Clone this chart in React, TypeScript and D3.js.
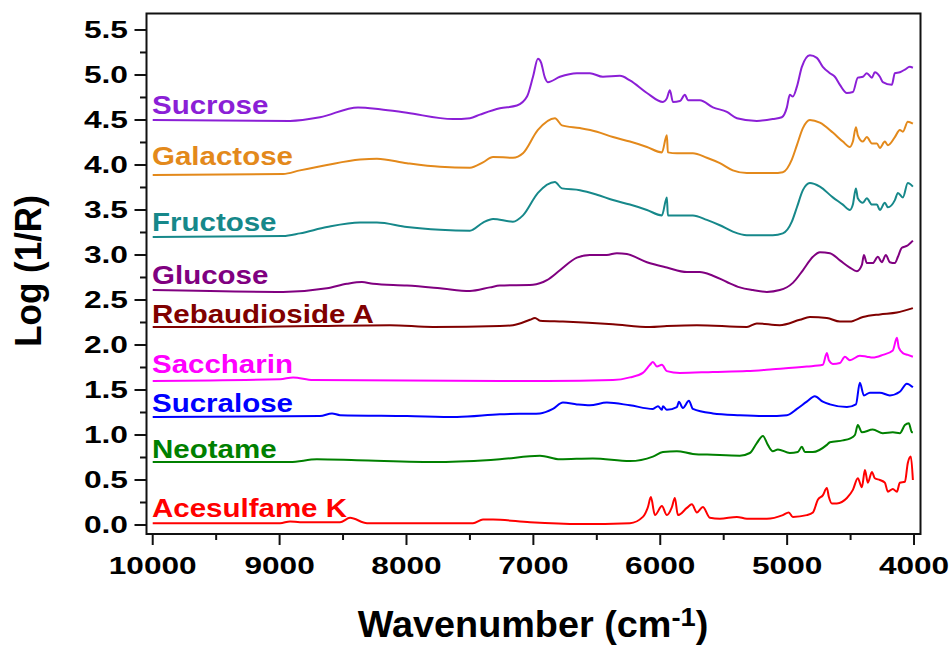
import React from "react";
import * as d3 from "d3";

// ---- DATA (wavenumber cm-1, Log(1/R)) ----
const sucrose: [number, number][] = [
  [10000, 4.5], [8918, 4.49], [8682, 4.53], [8382, 4.64], [8209, 4.62], [7996, 4.58], [7634, 4.51], [7500, 4.52],
  [7421, 4.56], [7264, 4.63], [7130, 4.66], [7050, 4.76], [7003, 4.98], [6964, 5.18], [6940, 5.14], [6909, 4.97],
  [6886, 4.92], [6791, 4.98], [6657, 5.02], [6555, 5.02], [6452, 4.98], [6318, 4.99], [6239, 4.94], [6105, 4.8],
  [5979, 4.7], [5948, 4.74], [5924, 4.83], [5900, 4.7], [5845, 4.71], [5806, 4.78], [5782, 4.72], [5688, 4.72],
  [5585, 4.64], [5475, 4.59], [5396, 4.52], [5239, 4.49], [5113, 4.51], [5042, 4.53], [5002, 4.64], [4979, 4.78],
  [4955, 4.76], [4923, 4.87], [4884, 5.09], [4821, 5.22], [4766, 5.19], [4719, 5.09], [4663, 5.02], [4624, 4.98],
  [4584, 4.89], [4529, 4.8], [4482, 4.81], [4443, 4.97], [4403, 4.98], [4372, 5.02], [4332, 4.97], [4309, 5.03],
  [4269, 4.98], [4246, 4.92], [4175, 4.89], [4151, 5.02], [4112, 5.03], [4072, 5.06], [4033, 5.09], [4009, 5.08],
];

const galactose: [number, number][] = [
  [10000, 3.89], [8973, 3.9], [8840, 3.94], [8627, 4.0], [8366, 4.06], [8233, 4.07], [7996, 4.02], [7736, 3.98],
  [7500, 3.97], [7397, 4.03], [7318, 4.09], [7161, 4.08], [7082, 4.13], [6964, 4.39], [6830, 4.52], [6775, 4.44],
  [6633, 4.41], [6499, 4.37], [6373, 4.31], [6239, 4.26], [6105, 4.2], [5987, 4.14], [5948, 4.33], [5940, 4.14],
  [5869, 4.13], [5743, 4.13], [5633, 4.08], [5530, 4.02], [5428, 3.94], [5318, 3.91], [5113, 3.91], [5034, 3.92],
  [4963, 4.06], [4923, 4.22], [4876, 4.41], [4821, 4.5], [4742, 4.47], [4640, 4.36], [4561, 4.26], [4506, 4.2],
  [4482, 4.26], [4458, 4.42], [4443, 4.33], [4403, 4.26], [4372, 4.31], [4332, 4.24], [4293, 4.24], [4269, 4.19],
  [4230, 4.26], [4206, 4.22], [4151, 4.31], [4112, 4.39], [4088, 4.37], [4049, 4.48], [4009, 4.46],
];

const fructose: [number, number][] = [
  [10000, 3.2], [8973, 3.21], [8840, 3.24], [8627, 3.31], [8366, 3.36], [8233, 3.36], [7996, 3.31], [7736, 3.28],
  [7500, 3.27], [7397, 3.36], [7318, 3.4], [7161, 3.37], [7082, 3.44], [6964, 3.69], [6830, 3.81], [6775, 3.74],
  [6633, 3.72], [6499, 3.67], [6373, 3.61], [6239, 3.56], [6105, 3.5], [5987, 3.44], [5948, 3.64], [5940, 3.44],
  [5869, 3.44], [5743, 3.44], [5633, 3.39], [5530, 3.33], [5428, 3.26], [5318, 3.22], [5113, 3.22], [5034, 3.24],
  [4963, 3.37], [4923, 3.53], [4876, 3.72], [4821, 3.8], [4742, 3.76], [4640, 3.64], [4561, 3.56], [4506, 3.5],
  [4482, 3.56], [4458, 3.74], [4443, 3.63], [4403, 3.58], [4372, 3.63], [4332, 3.56], [4293, 3.56], [4269, 3.5],
  [4230, 3.58], [4206, 3.53], [4151, 3.61], [4127, 3.69], [4088, 3.64], [4049, 3.8], [4009, 3.76],
];

const glucose: [number, number][] = [
  [10000, 2.61], [8973, 2.59], [8627, 2.63], [8469, 2.68], [8351, 2.7], [8264, 2.68], [7996, 2.66], [7736, 2.63],
  [7500, 2.6], [7342, 2.64], [7264, 2.66], [7003, 2.67], [6893, 2.72], [6791, 2.83], [6657, 2.97], [6555, 3.0],
  [6421, 3.0], [6342, 3.02], [6263, 3.01], [6105, 2.92], [5948, 2.86], [5790, 2.81], [5688, 2.81], [5585, 2.77],
  [5475, 2.7], [5373, 2.64], [5270, 2.61], [5160, 2.59], [5058, 2.61], [4955, 2.69], [4876, 2.83], [4797, 2.98],
  [4742, 3.03], [4663, 3.02], [4584, 2.94], [4506, 2.86], [4450, 2.82], [4411, 2.89], [4395, 3.0], [4372, 2.91],
  [4325, 2.91], [4285, 2.98], [4254, 2.92], [4222, 3.0], [4191, 2.92], [4151, 2.91], [4127, 2.98], [4096, 3.08],
  [4057, 3.1], [4009, 3.16],
];

const rebaudiosideA: [number, number][] = [
  [10000, 2.2], [9312, 2.2], [8130, 2.22], [7791, 2.2], [7264, 2.21], [7161, 2.22], [7027, 2.28], [6987, 2.3],
  [6948, 2.27], [6767, 2.26], [6373, 2.23], [6081, 2.2], [5948, 2.21], [5711, 2.22], [5317, 2.2], [5239, 2.24],
  [5058, 2.22], [4900, 2.28], [4821, 2.31], [4687, 2.3], [4584, 2.26], [4506, 2.26], [4403, 2.31], [4269, 2.34],
  [4135, 2.36], [4009, 2.41],
];

const saccharin: [number, number][] = [
  [10000, 1.6], [8996, 1.62], [8894, 1.64], [8737, 1.61], [7264, 1.6], [6893, 1.6], [6373, 1.61], [6239, 1.64],
  [6137, 1.69], [6081, 1.78], [6058, 1.81], [6026, 1.76], [5987, 1.78], [5948, 1.71], [5845, 1.69], [5585, 1.7],
  [5317, 1.71], [5113, 1.73], [4845, 1.76], [4719, 1.78], [4687, 1.91], [4671, 1.83], [4640, 1.79], [4584, 1.8],
  [4545, 1.87], [4506, 1.83], [4427, 1.88], [4372, 1.87], [4325, 1.86], [4246, 1.89], [4167, 1.94], [4135, 2.08],
  [4120, 1.97], [4088, 1.91], [4049, 1.89], [4009, 1.87],
];

const sucralose: [number, number][] = [
  [10000, 1.2], [8682, 1.21], [8587, 1.24], [8524, 1.22], [7996, 1.21], [7602, 1.2], [7264, 1.23], [6948, 1.24],
  [6846, 1.29], [6767, 1.36], [6657, 1.34], [6555, 1.33], [6421, 1.36], [6239, 1.33], [6058, 1.29], [6018, 1.32],
  [5987, 1.28], [5979, 1.32], [5948, 1.28], [5869, 1.31], [5853, 1.37], [5822, 1.3], [5774, 1.38], [5743, 1.29],
  [5585, 1.24], [5373, 1.22], [5160, 1.21], [5002, 1.22], [4923, 1.29], [4845, 1.37], [4782, 1.43], [4719, 1.37],
  [4663, 1.34], [4529, 1.31], [4458, 1.34], [4427, 1.58], [4395, 1.44], [4348, 1.47], [4269, 1.47], [4191, 1.44],
  [4112, 1.48], [4057, 1.57], [4009, 1.53],
];

const neotame: [number, number][] = [
  [10000, 0.7], [8918, 0.7], [8706, 0.73], [8390, 0.72], [7736, 0.7], [7264, 0.73], [6948, 0.77], [6791, 0.73],
  [6531, 0.74], [6239, 0.71], [6058, 0.76], [5979, 0.81], [5869, 0.82], [5743, 0.79], [5585, 0.78], [5373, 0.77],
  [5294, 0.8], [5239, 0.91], [5191, 0.99], [5152, 0.89], [5113, 0.82], [5073, 0.84], [4979, 0.8], [4916, 0.81],
  [4884, 0.87], [4860, 0.81], [4797, 0.81], [4687, 0.89], [4663, 0.92], [4561, 0.94], [4506, 0.96], [4466, 1.0],
  [4443, 1.11], [4411, 1.03], [4325, 1.06], [4246, 1.02], [4167, 1.03], [4112, 1.02], [4072, 1.11], [4041, 1.13],
  [4017, 1.03], [4009, 1.03],
];

const acesulfameK: [number, number][] = [
  [10000, 0.02], [8996, 0.02], [8918, 0.04], [8840, 0.03], [8524, 0.03], [8445, 0.08], [8311, 0.02], [7476, 0.02],
  [7397, 0.06], [7318, 0.06], [7027, 0.03], [6633, 0.01], [6239, 0.02], [6137, 0.09], [6097, 0.2], [6074, 0.31],
  [6042, 0.11], [5987, 0.21], [5948, 0.11], [5908, 0.2], [5885, 0.3], [5861, 0.11], [5790, 0.19], [5751, 0.23],
  [5711, 0.14], [5664, 0.2], [5609, 0.08], [5530, 0.07], [5396, 0.09], [5317, 0.07], [5160, 0.07], [5034, 0.11],
  [4987, 0.14], [4955, 0.09], [4845, 0.11], [4797, 0.14], [4758, 0.28], [4719, 0.33], [4687, 0.41], [4671, 0.31],
  [4648, 0.24], [4608, 0.24], [4529, 0.3], [4482, 0.39], [4443, 0.52], [4411, 0.42], [4387, 0.61], [4364, 0.47],
  [4332, 0.59], [4309, 0.52], [4269, 0.5], [4230, 0.47], [4206, 0.37], [4167, 0.4], [4135, 0.37], [4112, 0.47],
  [4072, 0.48], [4049, 0.69], [4025, 0.76], [4009, 0.5],
];

const seriesNames = [
  "Sucrose", "Galactose", "Fructose", "Glucose", "Rebaudioside A",
  "Saccharin", "Sucralose", "Neotame", "Acesulfame K",
];
const seriesData = [sucrose, galactose, fructose, glucose, rebaudiosideA, saccharin, sucralose, neotame, acesulfameK];

const xMajorTicks = [10000, 9000, 8000, 7000, 6000, 5000, 4000];
const xMinorTicks = [9500, 8500, 7500, 6500, 5500, 4500];
const yMajorTicks = [0, 0.5, 1, 1.5, 2, 2.5, 3, 3.5, 4, 4.5, 5, 5.5];
const yMinorTicks = [0.25, 0.75, 1.25, 1.75, 2.25, 2.75, 3.25, 3.75, 4.25, 4.75, 5.25];

// ---- STYLE ----
const colors = ["#8B1FD6", "#E3891B", "#16888A", "#800080", "#800000", "#FF00FF", "#0000FF", "#008000", "#FF0000"];
const labelDy = [-6, -10, -6, -6, -4, -8, -5, -4, -6];

const W = 949;
const H = 646;
const left = 146.5, right = 920.5, top = 13.5, bottom = 534;
const FONT = "'Liberation Sans', Arial, Helvetica, sans-serif";

function SText(props: {
  x: number; y: number; sx?: number; size: number; anchor?: string; fill?: string; children: React.ReactNode;
}) {
  const { x, y, sx = 1, size, anchor = "start", fill = "#000", children } = props;
  return (
    <text
      transform={`translate(${x},${y}) scale(${sx},1)`}
      textAnchor={anchor as any}
      fontSize={size}
      fontWeight="bold"
      fontFamily={FONT}
      fill={fill}
    >
      {children}
    </text>
  );
}

export default function App() {
  const x = d3.scaleLinear().domain([10049, 3949]).range([left, right]);
  const y = d3.scaleLinear().domain([-0.1, 5.683]).range([bottom, top]);
  const line = d3
    .line<[number, number]>()
    .x((d) => x(d[0]))
    .y((d) => y(d[1]))
    .curve(d3.curveMonotoneX);

  return (
    <svg
      width={W}
      height={H}
      style={{ position: "absolute", left: 0, top: 0, background: "#fff" }}
    >
      <rect x={0} y={0} width={W} height={H} fill="#fff" />
      {/* series */}
      {seriesData.map((s, i) => (
        <path key={seriesNames[i]} d={line(s) || ""} fill="none" stroke={colors[i]} strokeWidth={2} strokeLinejoin="round" />
      ))}
      {/* labels */}
      {seriesData.map((s, i) => (
        <SText key={"l" + i} x={152} y={y(s[0][1]) + labelDy[i]} sx={1.18} size={25} fill={colors[i]}>
          {seriesNames[i]}
        </SText>
      ))}
      {/* frame */}
      <rect x={left} y={top} width={right - left} height={bottom - top} fill="none" stroke="#111" strokeWidth={2} />
      {/* y ticks */}
      {yMajorTicks.map((t) => (
        <g key={"ym" + t}>
          <line x1={left - 12} x2={left} y1={y(t)} y2={y(t)} stroke="#111" strokeWidth={2} />
          <SText x={128} y={y(t) + 8.4} sx={1.38} size={23} anchor="end">
            {t.toFixed(1)}
          </SText>
        </g>
      ))}
      {yMinorTicks.map((t) => (
        <line key={"yn" + t} x1={left - 6.5} x2={left} y1={y(t)} y2={y(t)} stroke="#111" strokeWidth={2} />
      ))}
      {/* x ticks */}
      {xMajorTicks.map((t) => (
        <g key={"xm" + t}>
          <line x1={x(t)} x2={x(t)} y1={bottom} y2={bottom + 11} stroke="#111" strokeWidth={2} />
          <SText x={x(t)} y={574} sx={1.29} size={24.5} anchor="middle">
            {String(t)}
          </SText>
        </g>
      ))}
      {xMinorTicks.map((t) => (
        <line key={"xn" + t} x1={x(t)} x2={x(t)} y1={bottom} y2={bottom + 6} stroke="#111" strokeWidth={2} />
      ))}
      {/* axis titles */}
      <text
        transform="translate(41,271) scale(1.08,1) rotate(-90)"
        textAnchor="middle"
        fontSize={35}
        fontWeight="bold"
        fontFamily={FONT}
        fill="#000"
      >
        Log (1/R)
      </text>
      <text
        transform="translate(533,637) scale(1.05,1)"
        textAnchor="middle"
        fontSize={36}
        fontWeight="bold"
        fontFamily={FONT}
        fill="#000"
      >
        Wavenumber (cm
        <tspan fontSize={26} dy={-11}>-1</tspan>
        <tspan fontSize={36} dy={11}>)</tspan>
      </text>
    </svg>
  );
}
